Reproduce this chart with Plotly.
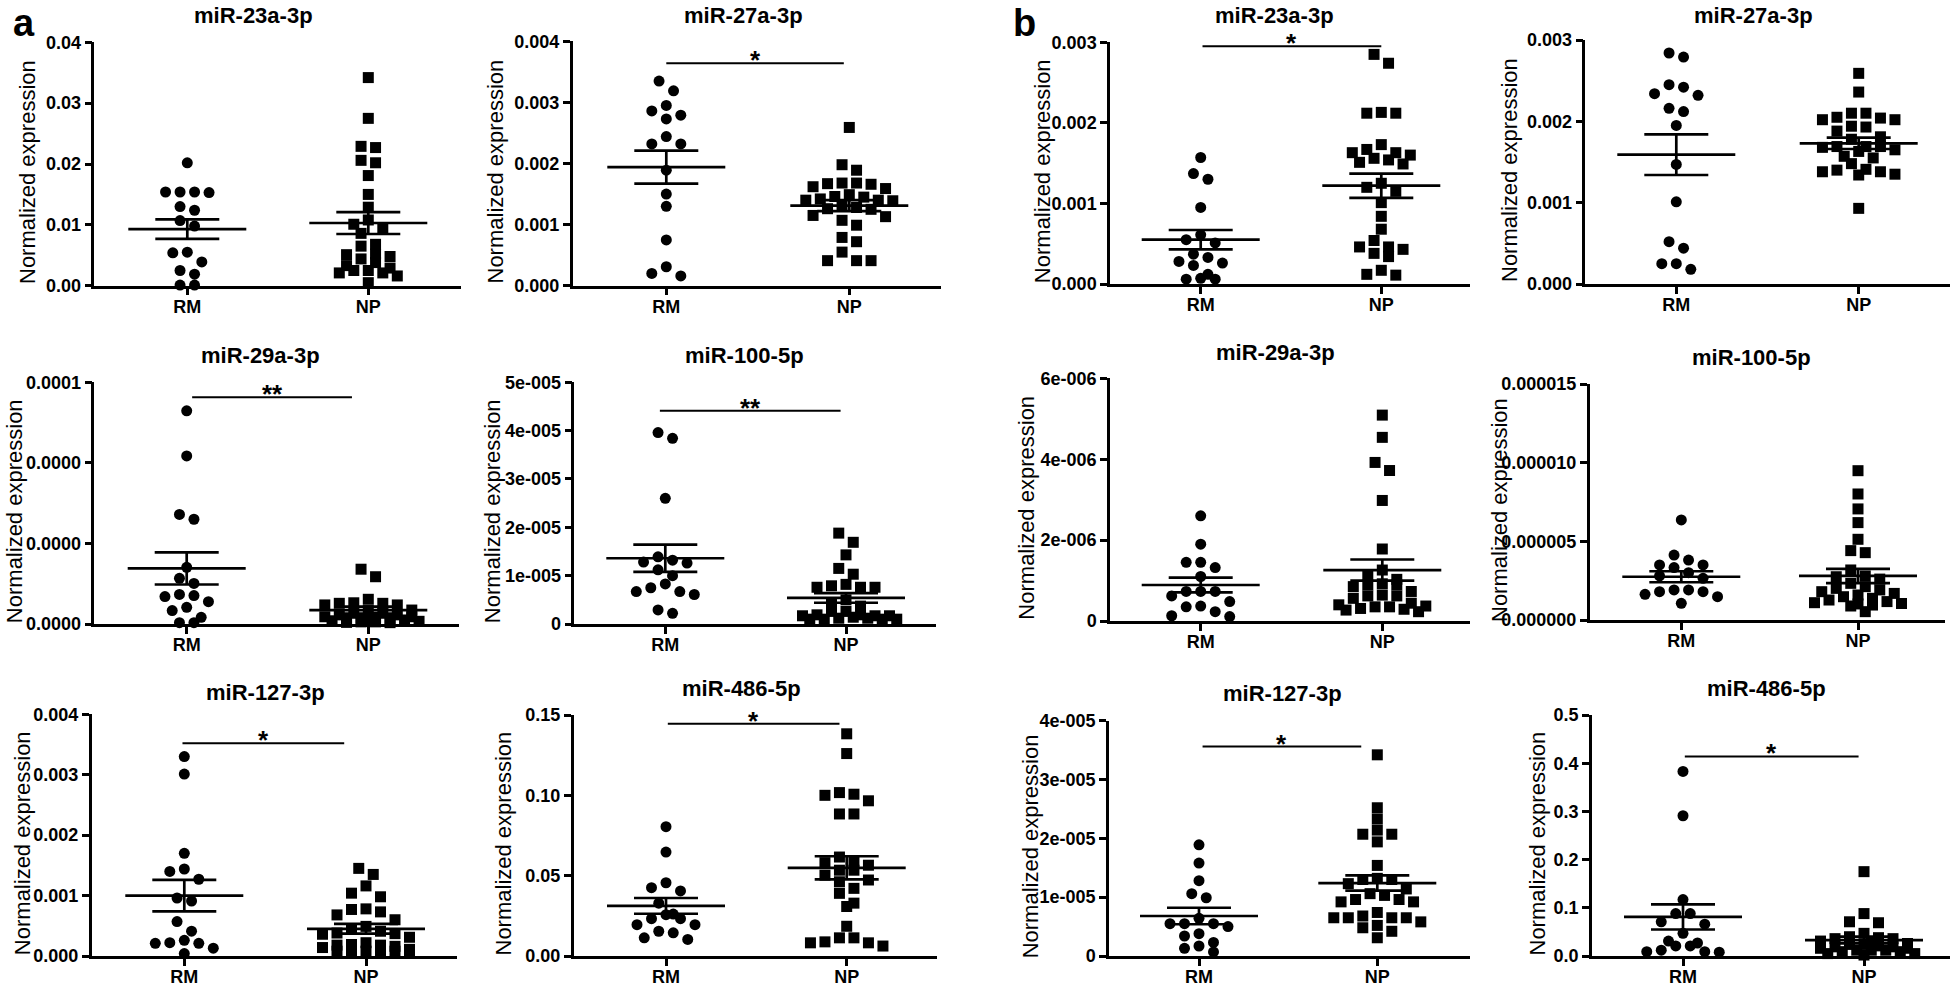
import numpy as np
import plotly.graph_objects as go

W, H = 1959, 988
FONT = "Liberation Sans, Arial, sans-serif"

# ---------------- data ----------------
categories = ["RM", "NP"]

# panel a
a23_rm = [0.0202, 0.0154, 0.0154, 0.0153, 0.0154, 0.0130, 0.0124, 0.0107, 0.0098, 0.0055, 0.0054, 0.0039, 0.0025, 0.0019, 0.0001, 0.0001]
a23_np = [0.0342, 0.0275, 0.0229, 0.0227, 0.0206, 0.0202, 0.0181, 0.0150, 0.0129, 0.0108, 0.0101, 0.0094, 0.0086, 0.0068, 0.0065, 0.0052, 0.0051, 0.0048, 0.0044, 0.0038, 0.0033, 0.0029, 0.0025, 0.0025, 0.0021, 0.0021, 0.0016, 0.0005]
a23_mean = [0.0093, 0.0103]
a23_sem = [0.0016, 0.0018]

a27_rm = [0.00335, 0.00319, 0.00295, 0.00286, 0.00279, 0.00273, 0.00244, 0.00232, 0.00232, 0.00189, 0.00150, 0.00130, 0.00075, 0.00031, 0.00020, 0.00016]
a27_np = [0.00259, 0.00198, 0.00189, 0.00168, 0.00167, 0.00168, 0.00166, 0.00162, 0.00159, 0.00149, 0.00146, 0.00145, 0.00140, 0.00140, 0.00139, 0.00142, 0.00130, 0.00128, 0.00126, 0.00125, 0.00115, 0.00113, 0.00107, 0.00099, 0.00079, 0.00072, 0.00055, 0.00041, 0.00041, 0.00041]
a27_mean = [0.00194, 0.00131]
a27_sem = [0.00027, 0.00009]

a29_rm = [7.94e-5, 6.26e-5, 4.08e-5, 3.90e-5, 2.11e-5, 1.70e-5, 1.51e-5, 1.10e-5, 1.06e-5, 1.02e-5, 0.83e-5, 0.62e-5, 0.50e-5, 0.25e-5, 0.05e-5, 0.05e-5]
a29_np = [2.04e-5, 1.76e-5, 0.92e-5, 0.79e-5, 0.77e-5, 0.77e-5, 0.71e-5, 0.71e-5, 0.52e-5, 0.50e-5, 0.40e-5, 0.40e-5, 0.34e-5, 0.34e-5, 0.27e-5, 0.27e-5, 0.25e-5, 0.21e-5, 0.17e-5, 0.17e-5, 0.15e-5, 0.12e-5, 0.10e-5, 0.10e-5, 0.08e-5, 0.08e-5, 0.06e-5, 0.05e-5]
a29_mean = [2.07e-5, 0.52e-5]
a29_sem = [0.60e-5, 0.13e-5]

a100_rm = [3.96e-5, 3.84e-5, 2.60e-5, 1.39e-5, 1.32e-5, 1.28e-5, 1.26e-5, 1.12e-5, 1.00e-5, 0.83e-5, 0.75e-5, 0.67e-5, 0.67e-5, 0.61e-5, 0.29e-5, 0.22e-5]
a100_np = [1.88e-5, 1.69e-5, 1.43e-5, 1.15e-5, 1.03e-5, 0.82e-5, 0.79e-5, 0.76e-5, 0.76e-5, 0.76e-5, 0.50e-5, 0.41e-5, 0.37e-5, 0.26e-5, 0.26e-5, 0.19e-5, 0.19e-5, 0.17e-5, 0.17e-5, 0.17e-5, 0.14e-5, 0.12e-5, 0.12e-5, 0.10e-5, 0.10e-5, 0.10e-5, 0.10e-5]
a100_mean = [1.36e-5, 0.54e-5]
a100_sem = [0.28e-5, 0.10e-5]

a127_rm = [0.00330, 0.00301, 0.00170, 0.00144, 0.00140, 0.00127, 0.00096, 0.00091, 0.00057, 0.00041, 0.00026, 0.00022, 0.00021, 0.00021, 0.00013, 0.00004]
a127_np = [0.00145, 0.00135, 0.00116, 0.00104, 0.00098, 0.00078, 0.00077, 0.00073, 0.00068, 0.00060, 0.00049, 0.00044, 0.00041, 0.00038, 0.00037, 0.00036, 0.00031, 0.00022, 0.00019, 0.00018, 0.00018, 0.00016, 0.00014, 0.00011, 0.00008, 0.00008, 0.00008, 0.00008, 0.00008, 0.00008]
a127_mean = [0.00100, 0.00045]
a127_sem = [0.00026, 0.00008]

a486_rm = [0.0805, 0.0647, 0.0456, 0.0425, 0.0405, 0.0329, 0.0261, 0.0257, 0.0232, 0.0232, 0.0195, 0.0195, 0.0154, 0.0144, 0.0113, 0.0103]
a486_np = [0.1383, 0.1260, 0.1017, 0.1007, 0.1000, 0.0966, 0.0884, 0.0884, 0.0616, 0.0590, 0.0581, 0.0565, 0.0534, 0.0534, 0.0503, 0.0473, 0.0462, 0.0421, 0.0390, 0.0329, 0.0308, 0.0185, 0.0113, 0.0113, 0.0088, 0.0082, 0.0082, 0.0062]
a486_mean = [0.0312, 0.0549]
a486_sem = [0.0049, 0.0072]

# panel b
b23_rm = [0.00157, 0.00137, 0.00130, 0.00095, 0.00061, 0.00055, 0.00051, 0.00037, 0.00033, 0.00028, 0.00026, 0.00023, 0.00012, 0.00007, 0.00006, 0.00006]
b23_np = [0.00285, 0.00274, 0.00213, 0.00212, 0.00212, 0.00173, 0.00167, 0.00163, 0.00163, 0.00160, 0.00156, 0.00154, 0.00151, 0.00149, 0.00125, 0.00120, 0.00115, 0.00101, 0.00084, 0.00068, 0.00054, 0.00046, 0.00046, 0.00043, 0.00038, 0.00034, 0.00017, 0.00012, 0.00011]
b23_mean = [0.00055, 0.00122]
b23_sem = [0.00012, 0.00015]

b27_rm = [0.00284, 0.00279, 0.00245, 0.00242, 0.00234, 0.00232, 0.00216, 0.00212, 0.00195, 0.00147, 0.00101, 0.00052, 0.00044, 0.00025, 0.00025, 0.00018]
b27_np = [0.00259, 0.00236, 0.00210, 0.00210, 0.00205, 0.00204, 0.00202, 0.00202, 0.00194, 0.00193, 0.00188, 0.00181, 0.00178, 0.00169, 0.00168, 0.00169, 0.00169, 0.00165, 0.00163, 0.00157, 0.00155, 0.00148, 0.00141, 0.00140, 0.00138, 0.00138, 0.00135, 0.00134, 0.00093]
b27_mean = [0.00159, 0.00173]
b27_sem = [0.00025, 0.00007]

b29_rm = [2.60e-6, 1.90e-6, 1.45e-6, 1.45e-6, 1.32e-6, 1.10e-6, 0.73e-6, 0.73e-6, 0.73e-6, 0.62e-6, 0.48e-6, 0.37e-6, 0.35e-6, 0.23e-6, 0.13e-6, 0.11e-6]
b29_np = [5.09e-6, 4.54e-6, 3.92e-6, 3.72e-6, 2.98e-6, 1.78e-6, 1.26e-6, 1.14e-6, 1.03e-6, 0.92e-6, 0.89e-6, 0.89e-6, 0.85e-6, 0.73e-6, 0.64e-6, 0.62e-6, 0.62e-6, 0.56e-6, 0.44e-6, 0.40e-6, 0.37e-6, 0.35e-6, 0.35e-6, 0.31e-6, 0.29e-6, 0.27e-6, 0.23e-6]
b29_mean = [0.89e-6, 1.26e-6]
b29_sem = [0.18e-6, 0.26e-6]

b100_rm = [6.36e-6, 4.13e-6, 3.81e-6, 3.50e-6, 3.50e-6, 3.33e-6, 3.01e-6, 2.80e-6, 2.65e-6, 1.91e-6, 1.91e-6, 1.80e-6, 1.80e-6, 1.63e-6, 1.48e-6, 1.06e-6]
b100_np = [9.49e-6, 8.01e-6, 7.06e-6, 6.19e-6, 5.13e-6, 4.41e-6, 4.28e-6, 3.18e-6, 2.80e-6, 2.75e-6, 2.60e-6, 2.33e-6, 2.12e-6, 2.01e-6, 1.91e-6, 1.80e-6, 1.69e-6, 1.59e-6, 1.48e-6, 1.38e-6, 1.27e-6, 1.17e-6, 1.10e-6, 1.05e-6, 1.02e-6, 0.95e-6, 0.89e-6, 0.53e-6]
b100_mean = [2.75e-6, 2.80e-6]
b100_sem = [0.35e-6, 0.45e-6]

b127_rm = [1.89e-5, 1.58e-5, 1.28e-5, 1.06e-5, 0.99e-5, 0.64e-5, 0.55e-5, 0.55e-5, 0.55e-5, 0.50e-5, 0.38e-5, 0.34e-5, 0.23e-5, 0.17e-5, 0.13e-5, 0.07e-5]
b127_np = [3.42e-5, 2.52e-5, 2.33e-5, 2.14e-5, 2.07e-5, 2.07e-5, 1.94e-5, 1.54e-5, 1.32e-5, 1.30e-5, 1.30e-5, 1.23e-5, 1.14e-5, 1.06e-5, 1.03e-5, 0.96e-5, 0.96e-5, 0.92e-5, 0.92e-5, 0.74e-5, 0.68e-5, 0.65e-5, 0.65e-5, 0.65e-5, 0.65e-5, 0.58e-5, 0.52e-5, 0.48e-5, 0.42e-5, 0.31e-5]
b127_mean = [0.68e-5, 1.24e-5]
b127_sem = [0.14e-5, 0.13e-5]

b486_rm = [0.383, 0.291, 0.117, 0.088, 0.088, 0.071, 0.066, 0.047, 0.031, 0.027, 0.021, 0.021, 0.012, 0.009, 0.008, 0.009]
b486_np = [0.175, 0.088, 0.071, 0.069, 0.047, 0.040, 0.038, 0.036, 0.036, 0.031, 0.026, 0.026, 0.024, 0.024, 0.021, 0.019, 0.019, 0.016, 0.016, 0.012, 0.012, 0.012, 0.009, 0.009, 0.005, 0.005, 0.002]
b486_mean = [0.081, 0.033]
b486_sem = [0.026, 0.007]

# y ticks
t_a23 = [0, 0.01, 0.02, 0.03, 0.04];           l_a23 = ["0.00", "0.01", "0.02", "0.03", "0.04"]
t_a27 = [0, 0.001, 0.002, 0.003, 0.004];       l_a27 = ["0.000", "0.001", "0.002", "0.003", "0.004"]
t_a29 = [0, 3e-5, 6e-5, 9e-5];                 l_a29 = ["0.0000", "0.0000", "0.0000", "0.0001"]
t_a100 = [0, 1e-5, 2e-5, 3e-5, 4e-5, 5e-5];    l_a100 = ["0", "1e-005", "2e-005", "3e-005", "4e-005", "5e-005"]
t_a127 = [0, 0.001, 0.002, 0.003, 0.004];      l_a127 = ["0.000", "0.001", "0.002", "0.003", "0.004"]
t_a486 = [0, 0.05, 0.10, 0.15];                l_a486 = ["0.00", "0.05", "0.10", "0.15"]
t_b23 = [0, 0.001, 0.002, 0.003];              l_b23 = ["0.000", "0.001", "0.002", "0.003"]
t_b27 = [0, 0.001, 0.002, 0.003];              l_b27 = ["0.000", "0.001", "0.002", "0.003"]
t_b29 = [0, 2e-6, 4e-6, 6e-6];                 l_b29 = ["0", "2e-006", "4e-006", "6e-006"]
t_b100 = [0, 5e-6, 1e-5, 1.5e-5];              l_b100 = ["0.000000", "0.000005", "0.000010", "0.000015"]
t_b127 = [0, 1e-5, 2e-5, 3e-5, 4e-5];          l_b127 = ["0", "1e-005", "2e-005", "3e-005", "4e-005"]
t_b486 = [0, 0.1, 0.2, 0.3, 0.4, 0.5];         l_b486 = ["0.0", "0.1", "0.2", "0.3", "0.4", "0.5"]

titles = ["miR-23a-3p", "miR-27a-3p", "miR-29a-3p", "miR-100-5p", "miR-127-3p", "miR-486-5p"]

# significance: (start, end in category units, height value, label)
sig_a27 = (0.0, 0.97, 0.00364, "*")
sig_a29 = (0.03, 0.91, 8.44e-5, "**")
sig_a100 = (-0.03, 0.97, 4.41e-5, "**")
sig_a127 = (-0.01, 0.88, 0.00352, "*")
sig_a486 = (0.01, 0.96, 0.1445, "*")
sig_b23 = (0.01, 1.0, 0.00295, "*")
sig_b127 = (0.02, 0.91, 3.56e-5, "*")
sig_b486 = (0.01, 0.97, 0.414, "*")

# ---------------- layout geometry (pixels) ----------------
panels = [
    dict(title=titles[0], rm=a23_rm, np_=a23_np, mean=a23_mean, sem=a23_sem, tv=t_a23, tt=l_a23, sig=None,
         L=94.3, R=461, T=42.3, B=285.7, RMx=187.3, NPx=368.3, tx=254, ty=15, lx=28),
    dict(title=titles[1], rm=a27_rm, np_=a27_np, mean=a27_mean, sem=a27_sem, tv=t_a27, tt=l_a27, sig=sig_a27,
         L=572.7, R=941, T=41.3, B=285.7, RMx=666.3, NPx=849.3, tx=743, ty=15, lx=495),
    dict(title=titles[0], rm=b23_rm, np_=b23_np, mean=b23_mean, sem=b23_sem, tv=t_b23, tt=l_b23, sig=sig_b23,
         L=1110, R=1470, T=42.3, B=284, RMx=1200.7, NPx=1381.3, tx=1274, ty=15, lx=1042),
    dict(title=titles[1], rm=b27_rm, np_=b27_np, mean=b27_mean, sem=b27_sem, tv=t_b27, tt=l_b27, sig=None,
         L=1585.3, R=1949.7, T=40, B=284, RMx=1676.3, NPx=1858.7, tx=1753, ty=15, lx=1509),
    dict(title=titles[2], rm=a29_rm, np_=a29_np, mean=a29_mean, sem=a29_sem, tv=t_a29, tt=l_a29, sig=sig_a29,
         L=94.3, R=459.3, T=382.3, B=624, RMx=186.7, NPx=368.3, tx=260.7, ty=355, lx=14),
    dict(title=titles[3], rm=a100_rm, np_=a100_np, mean=a100_mean, sem=a100_sem, tv=t_a100, tt=l_a100, sig=sig_a100,
         L=574.3, R=936, T=382.3, B=624, RMx=665.3, NPx=846, tx=744.3, ty=355, lx=492),
    dict(title=titles[2], rm=b29_rm, np_=b29_np, mean=b29_mean, sem=b29_sem, tv=t_b29, tt=l_b29, sig=None,
         L=1110, R=1470, T=378.3, B=621, RMx=1200.7, NPx=1382.3, tx=1275.7, ty=352, lx=1027),
    dict(title=titles[3], rm=b100_rm, np_=b100_np, mean=b100_mean, sem=b100_sem, tv=t_b100, tt=l_b100, sig=None,
         L=1589.7, R=1944.7, T=384, B=620, RMx=1681.3, NPx=1858, tx=1751.3, ty=357, lx=1499),
    dict(title=titles[4], rm=a127_rm, np_=a127_np, mean=a127_mean, sem=a127_sem, tv=t_a127, tt=l_a127, sig=sig_a127,
         L=91.7, R=456.7, T=714.3, B=956, RMx=184.3, NPx=366, tx=265, ty=692, lx=22),
    dict(title=titles[5], rm=a486_rm, np_=a486_np, mean=a486_mean, sem=a486_sem, tv=t_a486, tt=l_a486, sig=sig_a486,
         L=573.7, R=937, T=715, B=956, RMx=666, NPx=846.7, tx=741, ty=688, lx=503),
    dict(title=titles[4], rm=b127_rm, np_=b127_np, mean=b127_mean, sem=b127_sem, tv=t_b127, tt=l_b127, sig=sig_b127,
         L=1109, R=1470, T=720.7, B=956, RMx=1199, NPx=1377.3, tx=1282.3, ty=693, lx=1030),
    dict(title=titles[5], rm=b486_rm, np_=b486_np, mean=b486_mean, sem=b486_sem, tv=t_b486, tt=l_b486, sig=sig_b486,
         L=1592, R=1949.7, T=715, B=956, RMx=1683, NPx=1864, tx=1766.3, ty=688, lx=1537),
]

MSIZE = 11
SPACING = 14.5
MEAN_HALF = 59
SEM_HALF = 32


def swarm(vals, top, h_px, sep_px=11, spacing_px=SPACING, maxrow=7):
    v = np.asarray(vals, dtype=float)
    ypx = v / top * h_px
    order = np.argsort(-v, kind="stable")
    groups, cur = [], []
    for idx in order:
        if cur and (ypx[cur[0]] - ypx[idx]) >= sep_px:
            groups.append(cur)
            cur = []
        cur.append(idx)
    if cur:
        groups.append(cur)
    offs = np.zeros(len(v))
    for g in groups:
        for c, k in enumerate(range(0, len(g), maxrow)):
            chunk = g[k:k + maxrow]
            n = len(chunk)
            slots = [(j - (n - 1) / 2) * spacing_px for j in range(n)]
            slots = sorted(slots, key=lambda s: (abs(s), s))
            shift = (spacing_px / 2) if (c % 2 == 1) else 0
            for s, idx in zip(slots, chunk):
                offs[idx] = s + shift
    return offs


fig = go.Figure()
layout = {}
annotations = []

for i, p in enumerate(panels):
    k = "" if i == 0 else str(i + 1)
    xa, ya = "x" + k, "y" + k
    top = p["tv"][-1]
    h_px = p["B"] - p["T"]
    unit = p["NPx"] - p["RMx"]
    x0 = (p["L"] - p["RMx"]) / unit
    x1 = (p["R"] - p["RMx"]) / unit

    for ci, (vals, sym) in enumerate([(p["rm"], "circle"), (p["np_"], "square")]):
        offs = swarm(vals, top, h_px) / unit
        fig.add_trace(go.Scatter(
            x=ci + offs, y=vals, mode="markers", xaxis=xa, yaxis=ya,
            marker=dict(symbol=sym, size=MSIZE, color="black", line=dict(width=0)),
            cliponaxis=False, showlegend=False, hoverinfo="y"))

    lx, ly = [], []
    mh, sh = MEAN_HALF / unit, SEM_HALF / unit
    for ci in range(2):
        m, s = p["mean"][ci], p["sem"][ci]
        lx += [ci - mh, ci + mh, None, ci - sh, ci + sh, None, ci - sh, ci + sh, None, ci, ci, None]
        ly += [m, m, None, m + s, m + s, None, m - s, m - s, None, m - s, m + s, None]
    fig.add_trace(go.Scatter(x=lx, y=ly, mode="lines", xaxis=xa, yaxis=ya,
                             line=dict(color="black", width=2.7), cliponaxis=False,
                             showlegend=False, hoverinfo="skip"))

    if p["sig"]:
        s0, s1, sy, lab = p["sig"]
        fig.add_trace(go.Scatter(x=[s0, s1], y=[sy, sy], mode="lines", xaxis=xa, yaxis=ya,
                                 line=dict(color="black", width=2), cliponaxis=False,
                                 showlegend=False, hoverinfo="skip"))
        annotations.append(dict(x=(s0 + s1) / 2, y=sy, xref=xa, yref=ya, text=lab, showarrow=False,
                                yanchor="top", yshift=20,
                                font=dict(family=FONT, size=26, color="black", weight="bold")))

    common = dict(showline=True, linecolor="black", linewidth=2.5, ticks="outside", ticklen=7,
                  tickwidth=2.5, tickcolor="black", showgrid=False, zeroline=False, automargin=False,
                  tickfont=dict(family=FONT, size=18, color="black", weight="bold"), fixedrange=True)
    layout["xaxis" + k] = dict(domain=[p["L"] / W, p["R"] / W], range=[x0, x1], anchor=ya,
                               tickvals=[0, 1], ticktext=categories, ticklabelstandoff=-4, **common)
    layout["yaxis" + k] = dict(domain=[1 - p["B"] / H, 1 - p["T"] / H], range=[0, top], anchor=xa,
                               tickvals=p["tv"], ticktext=p["tt"], **common)

    annotations.append(dict(x=p["tx"] / W, y=1 - p["ty"] / H, xref="paper", yref="paper",
                            text=p["title"], showarrow=False, xanchor="center", yanchor="middle",
                            font=dict(family=FONT, size=22, color="black", weight="bold")))
    annotations.append(dict(x=p["lx"] / W, y=1 - ((p["T"] + p["B"]) / 2 + 8) / H, xref="paper", yref="paper",
                            text="Normalized expression", textangle=-90, showarrow=False,
                            xanchor="center", yanchor="middle",
                            font=dict(family=FONT, size=22, color="black")))

for lab, xp in [("a", 24), ("b", 1024)]:
    annotations.append(dict(x=xp / W, y=1, xref="paper", yref="paper", text=lab,
                            showarrow=False, xanchor="center", yanchor="top",
                            font=dict(family=FONT, size=38, color="black", weight="bold")))

fig.update_layout(width=W, height=H, autosize=False, margin=dict(l=0, r=0, t=0, b=0, pad=0),
                  paper_bgcolor="white", plot_bgcolor="white", showlegend=False,
                  annotations=annotations, **layout)

fig.write_html("out.html", config={"displayModeBar": False},
               post_script="document.body.style.margin='0';document.body.style.overflow='hidden';")
